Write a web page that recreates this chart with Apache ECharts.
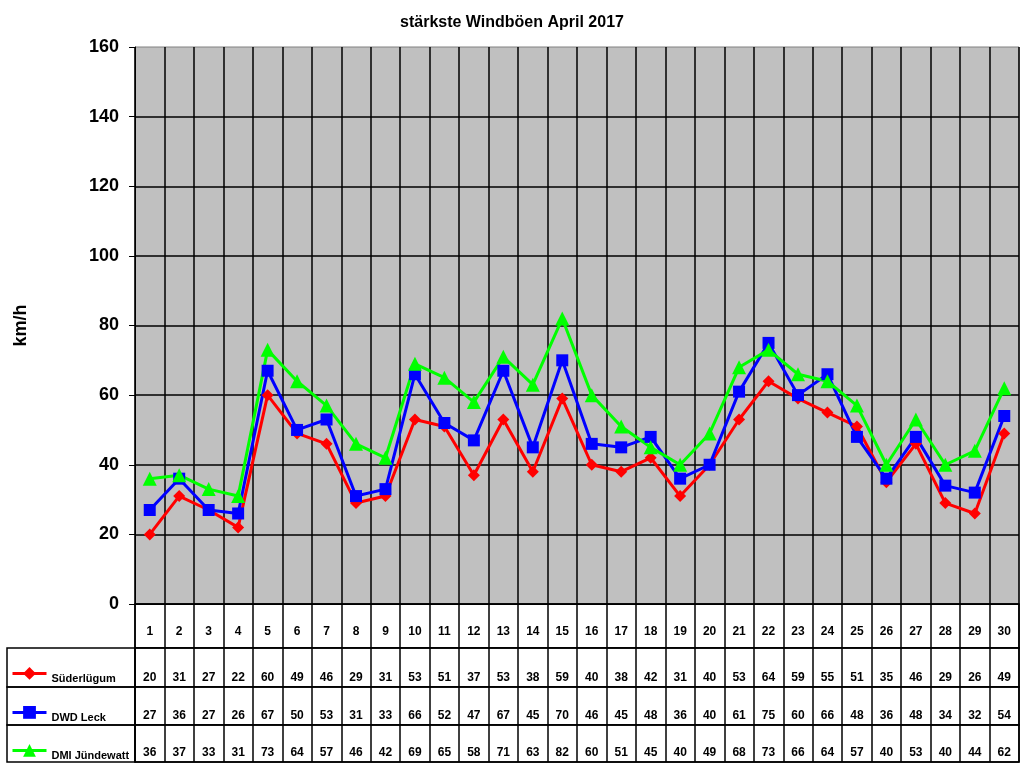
<!DOCTYPE html>
<html>
<head>
<meta charset="utf-8">
<script src="https://cdn.jsdelivr.net/npm/echarts@6/dist/echarts.min.js"></script>
<style>
  html, body { margin: 0; padding: 0; background: #fff; }
  #main { width: 1024px; height: 768px; }
</style>
</head>
<body>
<div id="main"></div>
<script>
var days = [];
for (var d = 1; d <= 30; d++) days.push(String(d));

var suederluegum = [20, 31, 27, 22, 60, 49, 46, 29, 31, 53, 51, 37, 53, 38, 59, 40, 38, 42, 31, 40, 53, 64, 59, 55, 51, 35, 46, 29, 26, 49];
var dwdLeck = [27, 36, 27, 26, 67, 50, 53, 31, 33, 66, 52, 47, 67, 45, 70, 46, 45, 48, 36, 40, 61, 75, 60, 66, 48, 36, 48, 34, 32, 54];
var dmiJuendewatt = [36, 37, 33, 31, 73, 64, 57, 46, 42, 69, 65, 58, 71, 63, 82, 60, 51, 45, 40, 49, 68, 73, 66, 64, 57, 40, 53, 40, 44, 62];

var names = ['Süderlügum', 'DWD Leck', 'DMI Jündewatt'];
var colors = ['#FF0000', '#0000FF', '#00FF00'];
var symbols = ['diamond', 'rect', 'triangle'];
var rows = [suederluegum, dwdLeck, dmiJuendewatt];

var font = 'Liberation Sans, Arial, sans-serif';
var chart = echarts.init(document.getElementById('main'));

// table rows under the plot: [top, height]
var rowBoxes = [[604, 44], [648, 39], [687, 38], [725, 37]];

var grids = [{ left: 135, right: 5, top: 47, bottom: 164, show: true,
  backgroundColor: '#C0C0C0', borderColor: '#808080', borderWidth: 1 }];
var xAxes = [{
  type: 'category', gridIndex: 0, data: days,
  axisLine: { lineStyle: { color: '#000', width: 1 } },
  axisTick: { show: false }, axisLabel: { show: false },
  splitLine: { show: true, interval: 0, lineStyle: { color: '#000', width: 1.5 } }
}];
var yAxes = [{
  type: 'value', gridIndex: 0, min: 0, max: 160, interval: 20,
  name: 'km/h', nameLocation: 'middle', nameRotate: 90, nameGap: 105,
  nameTextStyle: { fontFamily: font, fontWeight: 'bold', fontSize: 18, color: '#000' },
  axisLine: { show: true, lineStyle: { color: '#000' } },
  axisTick: { show: true, length: 6, lineStyle: { color: '#000' } },
  axisLabel: { fontFamily: font, fontWeight: 'bold', fontSize: 18, color: '#000', margin: 16 },
  splitLine: { show: true, showMaxLine: false, lineStyle: { color: '#000', width: 1.5 } }
}];

rowBoxes.forEach(function (b, i) {
  grids.push({ left: 135, right: 5, top: b[0], height: b[1], show: true,
    borderColor: '#000', borderWidth: 1.5, backgroundColor: '#fff' });
  var labels = i === 0 ? days : rows[i - 1];
  xAxes.push({
    type: 'category', gridIndex: i + 1, data: days, position: 'bottom',
    axisLine: { show: true, lineStyle: { color: '#000', width: 1.5 } },
    axisTick: { show: false },
    axisLabel: { inside: true, interval: 0, margin: i === 0 ? 10 : 3,
      fontFamily: font, fontWeight: 'bold', fontSize: 12, color: '#000',
      formatter: (function (lab) { return function (v, idx) { return String(lab[idx]); }; })(labels) },
    splitLine: { show: true, interval: 0, lineStyle: { color: '#000', width: 1.5 } }
  });
  yAxes.push({ type: 'value', gridIndex: i + 1, min: 0, max: 1, show: false });
});

var legends = names.map(function (n, i) {
  return {
    data: [n], left: 6, top: rowBoxes[i + 1][0] + 14, itemWidth: 34, itemHeight: 16, itemGap: 4,
    lineStyle: { width: 3 },
    formatter: '{a|{name}}',
    textStyle: { fontFamily: font, fontWeight: 'bold', fontSize: 11, color: '#000',
      rich: { a: { fontFamily: font, fontWeight: 'bold', fontSize: 11, color: '#000', padding: [12, 0, 0, 0] } } }
  };
});

var graphics = rowBoxes.slice(1).map(function (b) {
  return { type: 'rect', shape: { x: 7, y: b[0], width: 128, height: b[1] },
    style: { fill: 'none', stroke: '#000', lineWidth: 1.5 }, silent: true };
});

var series = names.map(function (n, i) {
  return {
    name: n, type: 'line', xAxisIndex: 0, yAxisIndex: 0, data: rows[i],
    symbol: symbols[i], symbolSize: i === 2 ? 14 : 12,
    itemStyle: { color: colors[i] },
    lineStyle: { color: colors[i], width: 3 }
  };
});

chart.setOption({
  animation: false,
  title: { text: 'stärkste Windböen April 2017', left: 'center', top: 10,
    textStyle: { fontFamily: font, fontWeight: 'bold', fontSize: 16, color: '#000' } },
  grid: grids,
  xAxis: xAxes,
  yAxis: yAxes,
  legend: legends,
  graphic: graphics,
  series: series
});
</script>
</body>
</html>
